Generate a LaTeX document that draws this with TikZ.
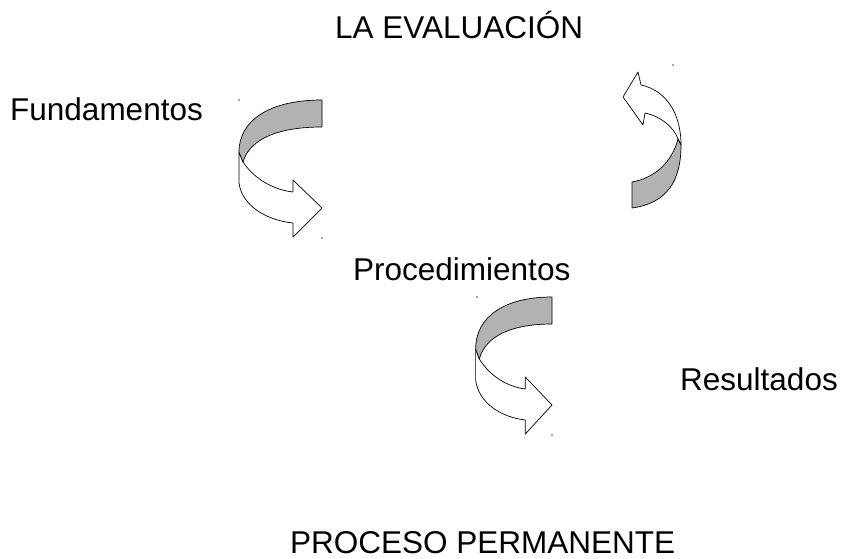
\documentclass[tikz,border=0pt]{standalone}
\usepackage{fontspec}
\setmainfont{Liberation Sans}
\usepackage{tikz}
\usepackage{color}

\tikzset{
  etiqueta/.style={anchor=base west, inner sep=0pt, font=\fontsize{31.5}{38}\selectfont},
  cinta/.style={draw=black, line width=0.7pt, line join=round},
  dorso/.style={cinta, fill=black!30},
  frente/.style={cinta, fill=white},
  punto/.style={fill=black!70}
}

\begin{document}
\begin{tikzpicture}[x=1pt,y=-1pt]
    \useasboundingbox (0,0) rectangle (841,558);

    % Textos
    \node[etiqueta] (evaluacion) at (335,38) {LA EVALUACIÓN};
    \node[etiqueta] (fundamentos) at (10,120) {Fundamentos};
    \node[etiqueta] (procedimientos) at (353,280) {Procedimientos};
    \node[etiqueta] (resultados) at (680,390) {Resultados};
    \node[etiqueta] (proceso) at (290,553) {PROCESO PERMANENTE};

    % Flecha curva (Fundamentos -> Procedimientos)
    \begin{scope}[shift={(322,100)}]
        \draw[frente] (-83,52) -- (-83,83) .. controls (-80,105) and (-57,120) .. (-29,123)
            -- (-29,137) -- (0,108) -- (-29,80) -- (-29,92)
            .. controls (-47,90) and (-67,80) .. (-79,62) -- cycle;
        \draw[dorso] (0,0) .. controls (-52,0) and (-83,20) .. (-83,52) -- (-79,62)
            .. controls (-72,38) and (-42,27) .. (0,27) -- cycle;
    \end{scope}
    \fill[punto] (239,100) circle (0.8);
    \fill[punto] (322,238) circle (0.8);

    % Flecha curva (Procedimientos -> Resultados)
    \begin{scope}[shift={(552,297)}, xscale=0.92]
        \draw[frente] (-83,52) -- (-83,83) .. controls (-80,105) and (-57,120) .. (-29,123)
            -- (-29,137) -- (0,108) -- (-29,80) -- (-29,92)
            .. controls (-47,90) and (-67,80) .. (-79,62) -- cycle;
        \draw[dorso] (0,0) .. controls (-52,0) and (-83,20) .. (-83,52) -- (-79,62)
            .. controls (-72,38) and (-42,27) .. (0,27) -- cycle;
    \end{scope}
    \fill[punto] (477,297) circle (0.8);
    \fill[punto] (552,435) circle (0.8);

    % Flecha curva hacia arriba (vuelta a la evaluacion)
    \draw[frente] (645,113) -- (643,125) -- (623,97) -- (638,72) -- (641,85)
        .. controls (665,90) and (681,112) .. (681,145) -- (678,139)
        .. controls (674,127) and (660,116) .. (645,113) -- cycle;
    \draw[dorso] (632,208) .. controls (668,203) and (681,180) .. (681,145) -- (678,139)
        .. controls (672,162) and (655,178) .. (632,182) -- cycle;
    \fill[punto] (673,65) circle (0.8);
\end{tikzpicture}
\end{document}
